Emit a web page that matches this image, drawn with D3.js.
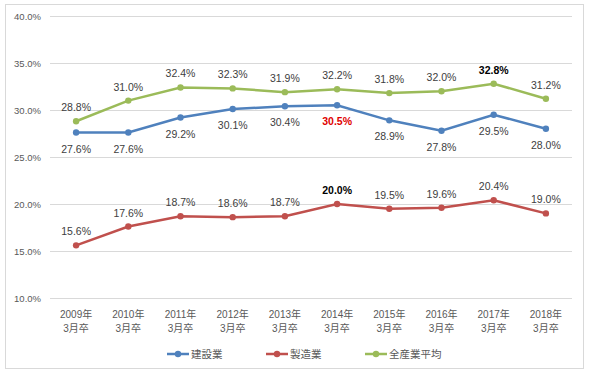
<!DOCTYPE html>
<html>
<head>
<meta charset="utf-8">
<script src="https://cdn.jsdelivr.net/npm/d3@7"></script>
<style>
  body { margin: 0; background: #fff; }
  text { font-family: "Liberation Sans", "Noto Sans CJK JP", sans-serif; }
</style>
</head>
<body>
<div id="chart"></div>
<script>
// données
var annees = ["2009年", "2010年", "2011年", "2012年", "2013年", "2014年", "2015年", "2016年", "2017年", "2018年"];
var kensetsu = [27.6, 27.6, 29.2, 30.1, 30.4, 30.5, 28.9, 27.8, 29.5, 28.0];
var seizou = [15.6, 17.6, 18.7, 18.6, 18.7, 20.0, 19.5, 19.6, 20.4, 19.0];
var zensangyo = [28.8, 31.0, 32.4, 32.3, 31.9, 32.2, 31.8, 32.0, 32.8, 31.2];
var yTicks = [10, 15, 20, 25, 30, 35, 40];

var series = [
  { nom: "建設業", valeurs: kensetsu, couleur: "#4F81BD", dy: 16, special: { 5: { fill: "#E00000", bold: true } } },
  { nom: "製造業", valeurs: seizou, couleur: "#C0504D", dy: -14, special: { 5: { fill: "#000", bold: true } } },
  { nom: "全産業平均", valeurs: zensangyo, couleur: "#9BBB59", dy: -14, special: { 8: { fill: "#000", bold: true } } }
];

var svg = d3.select("#chart").append("svg").attr("width", 590).attr("height", 374);

svg.append("rect")
  .attr("x", 5.5).attr("y", 4.5).attr("width", 578).attr("height", 364)
  .attr("fill", "#fff").attr("stroke", "#D9D9D9");

var x = d3.scaleBand().domain(annees).range([50, 572]);
var y = d3.scaleLinear().domain([10, 40]).range([298, 16]);

// grille
svg.selectAll(".grille").data(yTicks).enter().append("line")
  .attr("x1", 50).attr("x2", 572)
  .attr("y1", function(d) { return Math.round(y(d)) + 0.5; })
  .attr("y2", function(d) { return Math.round(y(d)) + 0.5; })
  .attr("stroke", "#D9D9D9").attr("stroke-width", 1);

svg.selectAll(".ytick").data(yTicks).enter().append("text")
  .attr("x", 41).attr("y", function(d) { return y(d) + 3.5; })
  .attr("text-anchor", "end").attr("font-size", "9.5px").attr("fill", "#595959")
  .text(function(d) { return d.toFixed(1) + "%"; });

// axe x, deux lignes
var xlab = svg.selectAll(".xtick").data(annees).enter().append("text")
  .attr("text-anchor", "middle").attr("font-size", "10px").attr("fill", "#595959");
xlab.append("tspan")
  .attr("x", function(d) { return x(d) + x.bandwidth() / 2; })
  .attr("y", 318)
  .text(function(d) { return d; });
xlab.append("tspan")
  .attr("x", function(d) { return x(d) + x.bandwidth() / 2; })
  .attr("y", 332)
  .text("3月卒");

var cx = function(d, i) { return x(annees[i]) + x.bandwidth() / 2; };

series.forEach(function(s) {
  var ligne = d3.line().x(cx).y(function(d) { return y(d); });
  svg.append("path").datum(s.valeurs)
    .attr("d", ligne).attr("fill", "none")
    .attr("stroke", s.couleur).attr("stroke-width", 2.5);
  svg.selectAll(null).data(s.valeurs).enter().append("circle")
    .attr("cx", cx).attr("cy", function(d) { return y(d); })
    .attr("r", 3.2).attr("fill", s.couleur);
  svg.selectAll(null).data(s.valeurs).enter().append("text")
    .attr("x", cx).attr("y", function(d) { return y(d) + s.dy + 4; })
    .attr("text-anchor", "middle").attr("font-size", "10.5px")
    .attr("fill", function(d, i) { return s.special[i] ? s.special[i].fill : "#404040"; })
    .attr("font-weight", function(d, i) { return s.special[i] ? "bold" : "normal"; })
    .text(function(d) { return d.toFixed(1) + "%"; });
});

// légende
var legX = [167, 266, 365];
series.forEach(function(s, i) {
  var g = svg.append("g").attr("transform", "translate(" + legX[i] + ",354)");
  g.append("line").attr("x1", 0).attr("x2", 22).attr("y1", 0).attr("y2", 0)
    .attr("stroke", s.couleur).attr("stroke-width", 2.5);
  g.append("circle").attr("cx", 11).attr("cy", 0).attr("r", 3.2).attr("fill", s.couleur);
  g.append("text").attr("x", 24).attr("y", 4)
    .attr("font-size", "10.5px").attr("fill", "#595959").text(s.nom);
});
</script>
</body>
</html>
